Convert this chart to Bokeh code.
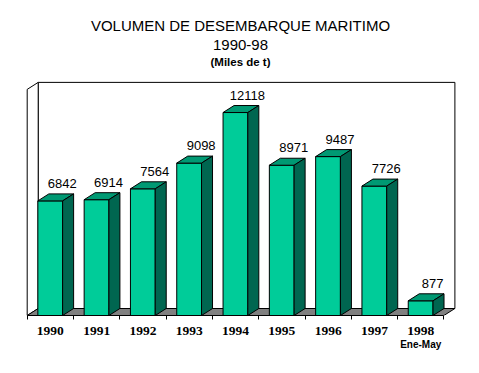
from bokeh.plotting import figure
from bokeh.models import Range1d, FixedTicker, Label, ColumnDataSource, LinearAxis
from bokeh.embed import file_html
from bokeh.resources import INLINE
from bokeh.core.properties import value

# ---- data ----
years = ["1990", "1991", "1992", "1993", "1994", "1995", "1996", "1997", "1998"]
volumes = [6842, 6914, 7564, 9098, 12118, 8971, 9487, 7726, 877]
year_note = "Ene-May"
title_lines = ["VOLUMEN DE DESEMBARQUE MARITIMO", "1990-98", "(Miles de t)"]
wall_max = 13500

# ---- geometry (pixel scales) ----
FIG_W, FIG_H = 479, 373
FRAME_H = 315                 # frame from canvas y=0 to 315
PX_X = 46.3                   # px per category
PX_Y = 0.01675                # px per unit
X0_PX = 26.7                  # frame left to first category boundary
DX = 11 / PX_X                # 3-D depth in data units
DY = 7 / PX_Y
BAR_L, BAR_R = 0.23, 0.765

n = len(years)
p = figure(width=FIG_W, height=FIG_H, output_backend="svg", toolbar_location=None,
           title=None,
           x_range=Range1d(-X0_PX / PX_X, (FIG_W - X0_PX) / PX_X),
           y_range=Range1d(0, FRAME_H / PX_Y),
           min_border_left=0, min_border_right=0, min_border_top=0,
           min_border_bottom=FIG_H - FRAME_H,
           y_axis_location=None, x_axis_location="below")
p.outline_line_color = None
p.xgrid.visible = False
p.ygrid.visible = False
p.extra_x_ranges = {"px": Range1d(0, FIG_W)}
p.extra_y_ranges = {"px": Range1d(FRAME_H, 0)}

# back wall
p.quad(left=[DX], right=[n + DX], bottom=[DY], top=[DY + wall_max],
       fill_color="white", line_color="black", line_width=1)
# left wall
p.patch(x=[0, DX, DX, 0], y=[0, DY, DY + wall_max, wall_max],
        fill_color="white", line_color="black", line_width=1)
# floor
p.patch(x=[0, n, n + DX, DX], y=[0, 0, DY, DY],
        fill_color="#808080", line_color="black", line_width=1)

# bars
lefts = [i + BAR_L for i in range(n)]
rights = [i + BAR_R for i in range(n)]
src = ColumnDataSource(dict(left=lefts, right=rights, top=volumes, bottom=[0] * n))
p.quad(left="left", right="right", bottom="bottom", top="top", source=src,
       fill_color="#00CC99", line_color="black", line_width=1)
top_xs = [[l, r, r + DX, l + DX] for l, r in zip(lefts, rights)]
top_ys = [[v, v, v + DY, v + DY] for v in volumes]
p.patches(xs=top_xs, ys=top_ys, fill_color="#009973", line_color="black", line_width=1)
side_xs = [[r, r + DX, r + DX, r] for r in rights]
side_ys = [[0, DY, v + DY, v] for v in volumes]
p.patches(xs=side_xs, ys=side_ys, fill_color="#006650", line_color="black", line_width=1)

# value labels
lab_x = [(l + r) / 2 + 12 / PX_X for l, r in zip(lefts, rights)]
lab_y = [v + DY + 10.5 / PX_Y for v in volumes]
p.text(x=lab_x, y=lab_y, text=[str(v) for v in volumes],
       text_font=value("Liberation Sans"), text_font_size="13px",
       text_align="center", text_baseline="alphabetic", text_color="black")

# x axis
ax = p.xaxis[0]
centers = [i + 0.5 for i in range(n)]
ax.ticker = FixedTicker(ticks=centers, minor_ticks=list(range(n + 1)))
ax.major_label_overrides = {c: y for c, y in zip(centers, years)}
ax.bounds = (0, n)
ax.major_tick_out = 0
ax.major_tick_in = 0
ax.minor_tick_out = 4
ax.minor_tick_in = 0
ax.minor_tick_line_color = "black"
ax.axis_line_color = "black"
ax.major_label_standoff = 7
ax.major_label_text_font = "Liberation Serif"
ax.major_label_text_font_style = "bold"
ax.major_label_text_font_size = "13.5px"
ax.major_label_text_color = "black"

# note under last year (second axis row)
note_ax = LinearAxis(ticker=FixedTicker(ticks=[n - 0.5], minor_ticks=[]),
                     major_label_overrides={n - 0.5: year_note})
note_ax.axis_line_color = None
note_ax.major_tick_line_color = None
note_ax.minor_tick_line_color = None
note_ax.major_tick_out = 0
note_ax.major_tick_in = 0
note_ax.major_label_standoff = 1
note_ax.major_label_text_font = "Liberation Sans"
note_ax.major_label_text_font_style = "bold"
note_ax.major_label_text_font_size = "10px"
note_ax.major_label_text_color = "black"
p.add_layout(note_ax, "below")

# titles
title_y = [24.5, 44.5, 61]
title_sizes = ["15px", "15px", "11.5px"]
title_styles = ["normal", "normal", "bold"]
for t, ty, ts, st in zip(title_lines, title_y, title_sizes, title_styles):
    p.add_layout(Label(x=240, y=ty, x_range_name="px", y_range_name="px", text=t,
                       text_font="Liberation Sans", text_font_size=ts, text_font_style=st,
                       text_align="center", text_baseline="alphabetic", text_color="black"))

open("out.html", "w").write(file_html(p, INLINE))
